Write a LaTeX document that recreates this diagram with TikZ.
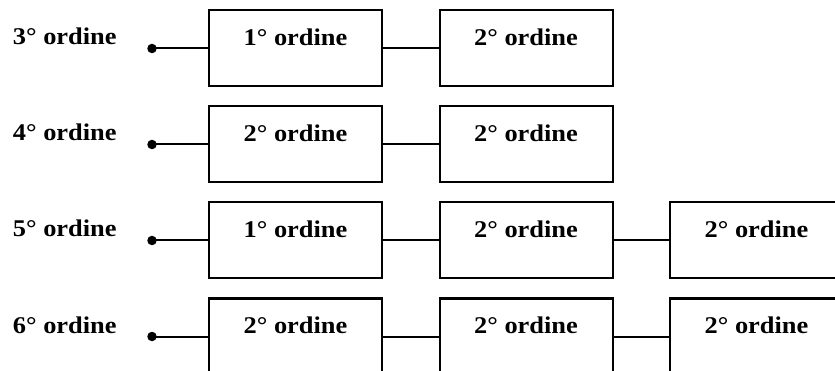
\documentclass[tikz,border=0pt]{standalone}
\usepackage{fontspec}
\setmainfont{Liberation Serif}
\newcommand{\wtxt}[1]{\scalebox{1.1}[1]{#1}}
\tikzset{
  box/.style={draw, line width=2pt, minimum width=173pt, minimum height=76pt, inner sep=0pt},
  txt/.style={font=\fontsize{24}{28}\selectfont\bfseries, anchor=base, inner sep=0pt},
  lbl/.style={font=\fontsize{24}{28}\selectfont\bfseries, anchor=base west, inner sep=0pt},
  wire/.style={line width=2pt},
  dotc/.style={circle, fill, inner sep=0pt, minimum size=9.5pt}
}
\begin{document}
\begin{tikzpicture}[x=1pt,y=-1pt]
\useasboundingbox (0,0) rectangle (835,371);
\clip (0,0) rectangle (835,371);
% row 1
\node[lbl] (l1) at (12.7,45) {\wtxt{3° ordine}};
\node[dotc] (d1) at (152,48.5) {};
\node[box] (a1) at (295.5,48.5) {};
\node[txt] (a1t) at (295.5,45.5) {\wtxt{1° ordine}};
\node[box] (b1) at (526,48.5) {};
\node[txt] (b1t) at (526,45.5) {\wtxt{2° ordine}};
\draw[wire] (d1.center) -- (a1.west);
\draw[wire] (a1.east) -- (b1.west);
% row 2
\node[lbl] (l2) at (12.7,141) {\wtxt{4° ordine}};
\node[dotc] (d2) at (152,144.5) {};
\node[box] (a2) at (295.5,144.5) {};
\node[txt] (a2t) at (295.5,141.5) {\wtxt{2° ordine}};
\node[box] (b2) at (526,144.5) {};
\node[txt] (b2t) at (526,141.5) {\wtxt{2° ordine}};
\draw[wire] (d2.center) -- (a2.west);
\draw[wire] (a2.east) -- (b2.west);
% row 3
\node[lbl] (l3) at (12.7,237) {\wtxt{5° ordine}};
\node[dotc] (d3) at (152,240.5) {};
\node[box] (a3) at (295.5,240.5) {};
\node[txt] (a3t) at (295.5,237.5) {\wtxt{1° ordine}};
\node[box] (b3) at (526,240.5) {};
\node[txt] (b3t) at (526,237.5) {\wtxt{2° ordine}};
\node[box] (c3) at (756.5,240.5) {};
\node[txt] (c3t) at (756.5,237.5) {\wtxt{2° ordine}};
\draw[wire] (d3.center) -- (a3.west);
\draw[wire] (a3.east) -- (b3.west);
\draw[wire] (b3.east) -- (c3.west);
% row 4
\node[lbl] (l4) at (12.7,333) {\wtxt{6° ordine}};
\node[dotc] (d4) at (152,336.5) {};
\node[box] (a4) at (295.5,336.5) {};
\node[txt] (a4t) at (295.5,333.5) {\wtxt{2° ordine}};
\node[box] (b4) at (526,336.5) {};
\node[txt] (b4t) at (526,333.5) {\wtxt{2° ordine}};
\node[box] (c4) at (756.5,336.5) {};
\node[txt] (c4t) at (756.5,333.5) {\wtxt{2° ordine}};
\draw[wire] (d4.center) -- (a4.west);
\draw[wire] (a4.east) -- (b4.west);
\draw[wire] (b4.east) -- (c4.west);
\end{tikzpicture}
\end{document}
